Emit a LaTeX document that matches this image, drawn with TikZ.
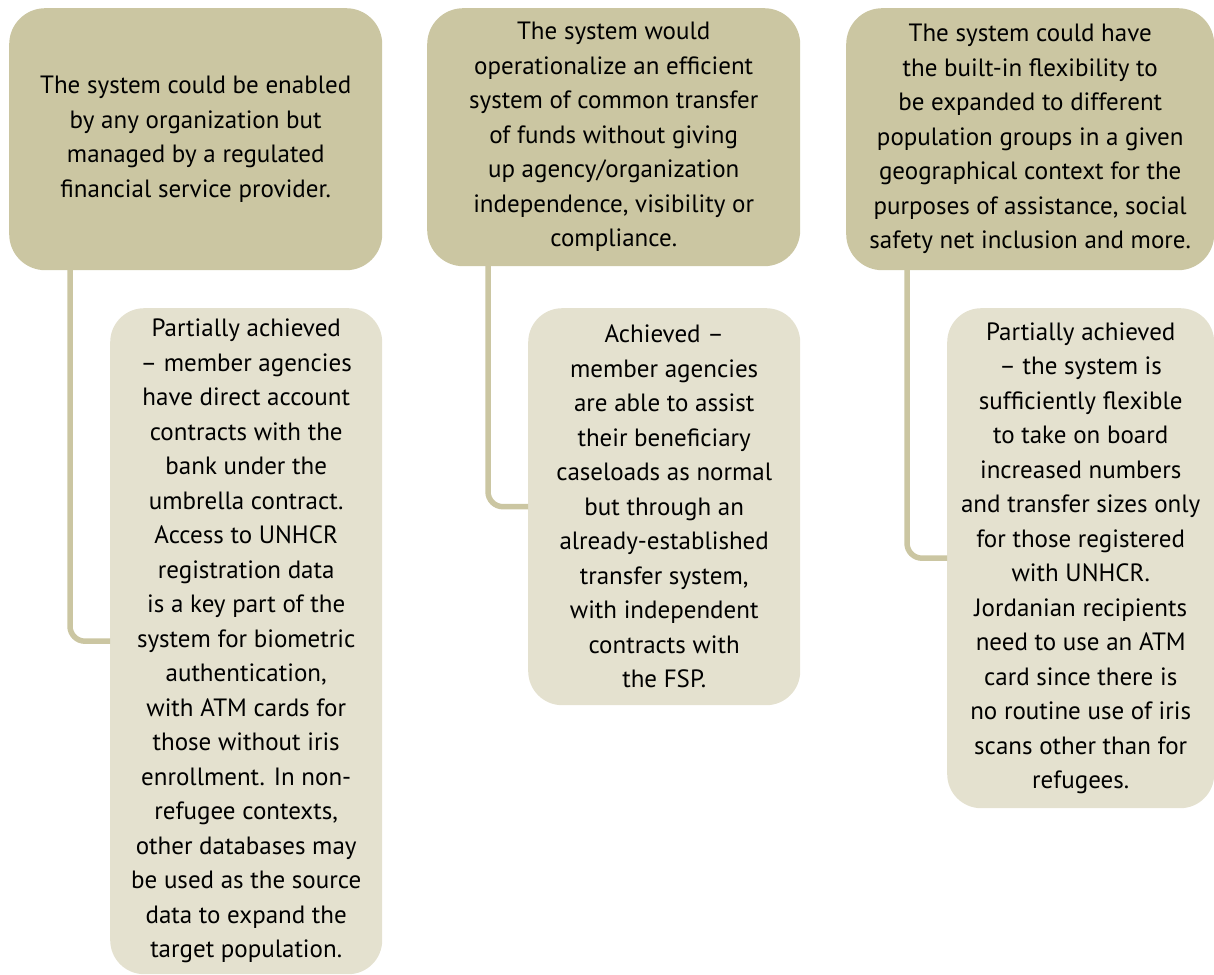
\documentclass[tikz,border=0pt]{standalone}
\usepackage{xcolor}
\usepackage{fontspec}
\setmainfont{PT Sans}
\usepackage{tikz}
\usetikzlibrary{positioning, calc}
\definecolor{goalcolor}{HTML}{CBC6A2}
\definecolor{resultcolor}{HTML}{E4E1CF}
\newcommand{\boxfont}{\fontsize{25}{34.5}\selectfont}

\begin{document}
\begin{tikzpicture}[x=1pt, y=-1pt]
	\tikzstyle{goalbox}=[rectangle, rounded corners=36pt, fill=goalcolor, anchor=north west, align=center, inner sep=0pt, font=\boxfont]
	\tikzstyle{resultbox}=[rectangle, rounded corners=34pt, fill=resultcolor, anchor=north west, align=center, inner sep=0pt, font=\boxfont]
	\tikzstyle{link}=[draw=goalcolor, line width=5.5pt, rounded corners=15pt]
	\useasboundingbox (0,0) rectangle (1214,974);
	% aims
	\node (goal1) at (9,8) [goalbox, minimum width=373pt, minimum height=262pt]{The system could be enabled\\by any organization but\\managed by a regulated\\financial service provider.};
	\node (goal2) at (427,8) [goalbox, minimum width=373pt, minimum height=258pt]{The system would\\operationalize an efficient\\system of common transfer\\of funds without giving\\up agency/organization\\independence, visibility or\\compliance.};
	\node (goal3) at (846,8) [goalbox, minimum width=368pt, minimum height=262pt]{The system could have\\the built-in flexibility to\\be expanded to different\\population groups in a given\\geographical context for the\\purposes of assistance, social\\safety net inclusion and more.};
	% results
	\node (res1) at (110,308) [resultbox, minimum width=272pt, minimum height=666pt]{Partially achieved\\– member agencies\\have direct account\\contracts with the\\bank under the\\umbrella contract.\\Access to UNHCR\\registration data\\is a key part of the\\system for biometric\\authentication,\\with ATM cards for\\those without iris\\enrollment. In non-\\refugee contexts,\\other databases may\\be used as the source\\data to expand the\\target population.};
	\node (res2) at (528,308) [resultbox, minimum width=272pt, minimum height=397pt]{Achieved –\\member agencies\\are able to assist\\their beneficiary\\caseloads as normal\\but through an\\already-established\\transfer system,\\with independent\\contracts with\\the FSP.};
	\node (res3) at (947,308) [resultbox, minimum width=267pt, minimum height=500pt]{Partially achieved\\– the system is\\sufficiently flexible\\to take on board\\increased numbers\\and transfer sizes only\\for those registered\\with UNHCR.\\Jordanian recipients\\need to use an ATM\\card since there is\\no routine use of iris\\scans other than for\\refugees.};
	\draw[link] ($(goal1.south west)+(61,-2)$) |- (res1.west);
	\draw[link] ($(goal2.south west)+(61,-2)$) |- (res2.west);
	\draw[link] ($(goal3.south west)+(61,-2)$) |- (res3.west);
	\end{tikzpicture}
\end{document}
